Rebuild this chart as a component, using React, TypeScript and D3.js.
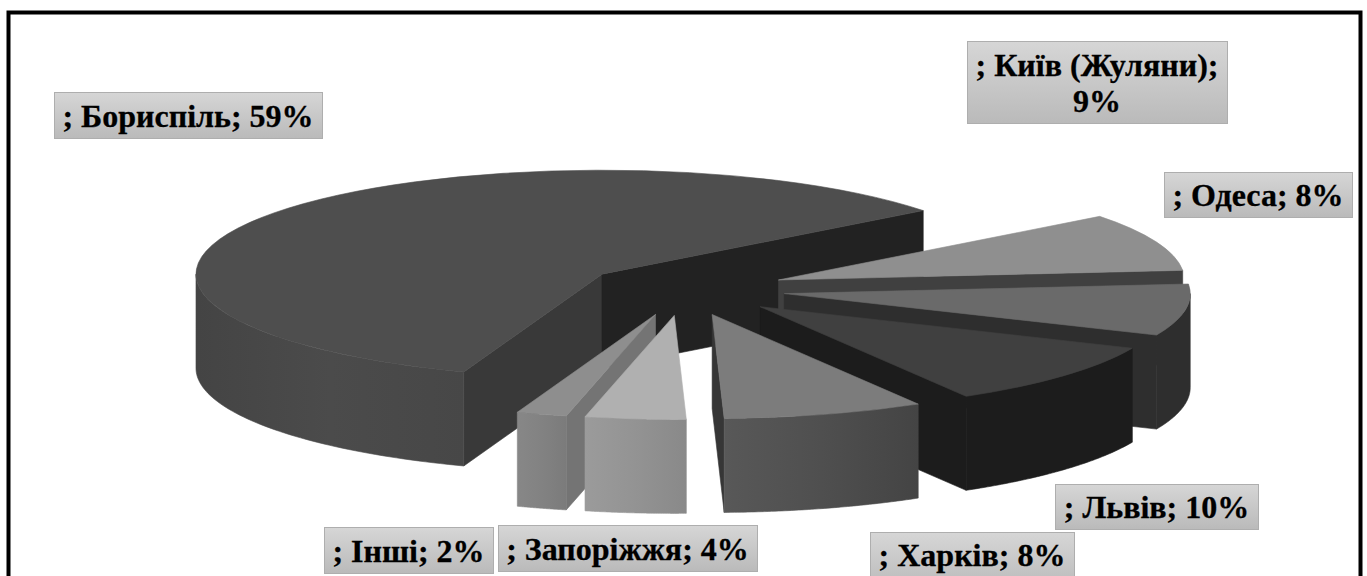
import React from "react";
import * as d3 from "d3";

// Airport shares, listed clockwise from the large slice.
const airports = ["Бориспіль", "Київ (Жуляни)", "Одеса", "Львів", "Харків", "Запоріжжя", "Інші"];
const shares = [59, 9, 8, 10, 8, 4, 2];

// Grey shades per slice.
const topFill = ["#4e4e4e", "#8f8f8f", "#6a6a6a", "#404040", "#7c7c7c", "#b0b0b0", "#8e8e8e"];
const rimFrom = ["#444444", "#404040", "#2e2e2e", "#1c1c1c", "#585858", "#9b9b9b", "#878787"];
const rimMid = ["#4b4b4b", "#404040", "#2e2e2e", "#1c1c1c", "#4f4f4f", "#939393", "#828282"];
const rimTo = ["#474747", "#404040", "#2e2e2e", "#1c1c1c", "#444444", "#898989", "#7b7b7b"];
const cutStart = ["#393939", "#404040", "#2e2e2e", "#1c1c1c", "#363636", "#8a8a8a", "#747474"];
const cutEnd = ["#222222", "#404040", "#2e2e2e", "#1c1c1c", "#363636", "#8a8a8a", "#747474"];

// Painter's order, back to front.
const drawOrder = [0, 1, 2, 3, 6, 5, 4];

// Callout boxes: [left, top, right, bottom] with text baselines.
const labelBoxes = [
  [54, 92, 322, 138],
  [967, 41, 1227, 123],
  [1164, 172, 1352, 217],
  [1055, 484, 1258, 529],
  [870, 532, 1074, 590],
  [498, 525, 757, 571],
  [324, 527, 493, 573],
];
const labelLines = [
  ["; Бориспіль; 59%"],
  ["; Київ (Жуляни);", "9%"],
  ["; Одеса; 8%"],
  ["; Львів; 10%"],
  ["; Харків; 8%"],
  ["; Запоріжжя; 4%"],
  ["; Інші; 2%"],
];
const labelBaselines = [[127], [76, 112], [206], [518], [566], [560], [562]];

const WIDTH = 1367;
const HEIGHT = 576;
const CX = 684;
const CY = 289.5;
const RX = 406;
const RY = 104;
const DEPTH = 94;
const EXPLODE = 0.25;
const START_ANGLE = (199.9 * Math.PI) / 180;

const pie = d3
  .pie<number>()
  .sort(null)
  .startAngle(START_ANGLE)
  .endAngle(START_ANGLE + 2 * Math.PI);
const arcs = pie(shares);
const sector = d3.arc();
const polyline = d3.line();

function apex(a: number, b: number): [number, number] {
  const mid = (a + b) / 2;
  return [CX + EXPLODE * RX * Math.sin(mid), CY - EXPLODE * RY * Math.cos(mid)];
}

function project(o: [number, number], t: number, z: number): [number, number] {
  return [o[0] + RX * Math.sin(t), o[1] - RY * Math.cos(t) + z * DEPTH];
}

// Flat wall running from the slice's axis out to the rim at angle t.
function cutWall(o: [number, number], t: number) {
  const rim = project(o, t, 0);
  const low = project(o, t, 1);
  return polyline([o, rim, low, [o[0], o[1] + DEPTH]]) + "Z";
}

// Curved outer wall; only the part facing the viewer, between 90° and 270°.
function rimWall(o: [number, number], a: number, b: number) {
  const wrap = a >= 2 * Math.PI ? 2 * Math.PI : 0;
  const from = Math.max(a - wrap, Math.PI / 2);
  const to = Math.min(b - wrap, (3 * Math.PI) / 2);
  if (to <= from) return null;
  const steps = d3.range(0, 61).map((i) => from + ((to - from) * i) / 60);
  const upper = steps.map((t) => project(o, t, 0));
  const lower = steps.slice().reverse().map((t) => project(o, t, 1));
  return polyline([...upper, ...lower]) + "Z";
}

export default function App() {
  return (
    <svg
      width={WIDTH}
      height={HEIGHT}
      viewBox={`0 0 ${WIDTH} ${HEIGHT}`}
      style={{ position: "absolute", left: 0, top: 0, display: "block", background: "#fff" }}
    >
      <defs>
        <linearGradient id="labelFill" x1="0" y1="0" x2="0" y2="1">
          <stop offset="0" stopColor="#d6d6d6" />
          <stop offset="1" stopColor="#bababa" />
        </linearGradient>
        {airports.map((_, i) => (
          <linearGradient key={i} id={`rim${i}`} x1="0" y1="0" x2="1" y2="0">
            <stop offset="0" stopColor={rimFrom[i]} />
            <stop offset="0.5" stopColor={rimMid[i]} />
            <stop offset="1" stopColor={rimTo[i]} />
          </linearGradient>
        ))}
      </defs>

      <rect x={8.5} y={12.5} width={1352} height={600} fill="#fff" stroke="#000" strokeWidth={4} />

      {drawOrder.map((i) => {
        const { startAngle: a, endAngle: b } = arcs[i];
        const o = apex(a, b);
        const rim = rimWall(o, a, b);
        const top = sector({ innerRadius: 0, outerRadius: RX, startAngle: a, endAngle: b });
        return (
          <g key={airports[i]}>
            {Math.sin(a) < 0 && (
              <path d={cutWall(o, a)!} fill={cutStart[i]} stroke={cutStart[i]} strokeWidth={0.6} />
            )}
            {Math.sin(b) > 0 && (
              <path d={cutWall(o, b)!} fill={cutEnd[i]} stroke={cutEnd[i]} strokeWidth={0.6} />
            )}
            {rim && (
              <path d={rim} fill={`url(#rim${i})`} stroke={`url(#rim${i})`} strokeWidth={0.6} />
            )}
            <path
              d={top!}
              fill={topFill[i]}
              stroke={topFill[i]}
              strokeWidth={0.6}
              vectorEffect="non-scaling-stroke"
              transform={`translate(${o[0]},${o[1]}) scale(1,${RY / RX})`}
            />
          </g>
        );
      })}

      {airports.map((name, i) => {
        const [x0, y0, x1, y1] = labelBoxes[i];
        return (
          <g key={name}>
            <rect
              x={x0 + 0.5}
              y={y0 + 0.5}
              width={x1 - x0}
              height={y1 - y0}
              fill="url(#labelFill)"
              stroke="#aeaeae"
            />
            {labelLines[i].map((line, j) => (
              <text
                key={line}
                x={(x0 + x1) / 2}
                y={labelBaselines[i][j]}
                textAnchor="middle"
                fontFamily="'Liberation Serif', serif"
                fontWeight="bold"
                fontSize={32}
                fill="#000"
                stroke="#000"
                strokeWidth={0.3}
              >
                {line}
              </text>
            ))}
          </g>
        );
      })}
    </svg>
  );
}
